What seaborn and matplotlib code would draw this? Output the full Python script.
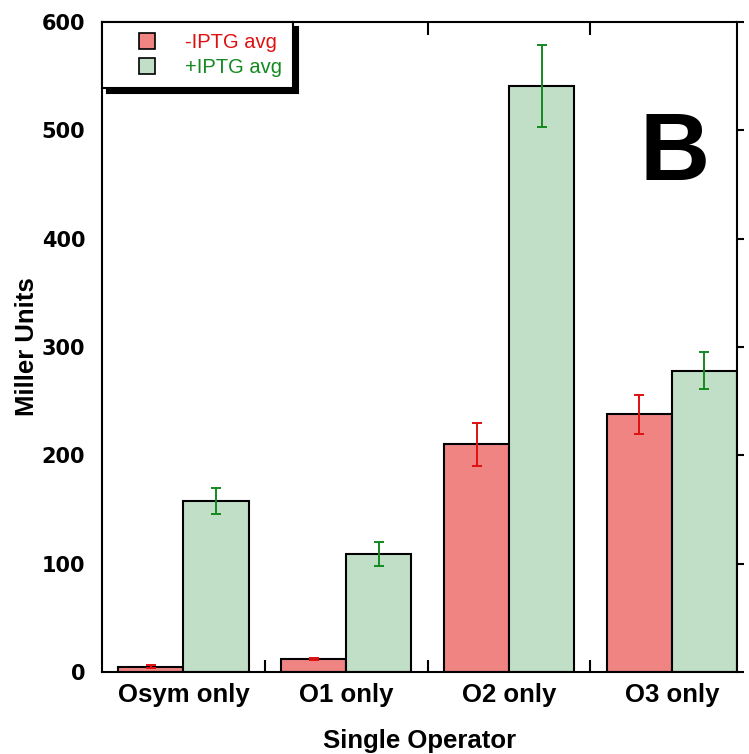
import numpy as np
import pandas as pd
import matplotlib
matplotlib.use("Agg")
import matplotlib.pyplot as plt
from matplotlib.lines import Line2D
import seaborn as sns

operators = ["Osym only", "O1 only", "O2 only", "O3 only"]
conditions = ["-IPTG avg", "+IPTG avg"]
minus_iptg = [5, 12, 210, 238]
minus_err = [1, 1, 20, 18]
plus_iptg = [158, 109, 541, 278]
plus_err = [12, 11, 38, 17]

bar_colors = ["#F08482", "#C1DFC6"]
err_colors = ["#E01010", "#138A1F"]

df = pd.DataFrame({
    "operator": operators * 2,
    "condition": [conditions[0]] * 4 + [conditions[1]] * 4,
    "value": minus_iptg + plus_iptg,
})

sns.set_style("white")
plt.rcParams["font.family"] = ["Liberation Sans", "DejaVu Sans"]
plt.rcParams["text.color"] = "black"
plt.rcParams["axes.labelcolor"] = "black"
plt.rcParams["xtick.color"] = "black"
plt.rcParams["ytick.color"] = "black"

fig = plt.figure(figsize=(7.49, 7.54), dpi=100)
ax = fig.add_axes([0.1362, 0.1088, 0.8478, 0.862])

sns.barplot(data=df, x="operator", y="value", hue="condition",
            order=operators, hue_order=conditions, palette=bar_colors,
            errorbar=None, width=0.8, edgecolor="black", linewidth=1.5,
            saturation=1, legend=False, ax=ax)

# error bars at the bar centres that seaborn placed
for cont, errs, ec in zip(ax.containers, [minus_err, plus_err], err_colors):
    xs = [p.get_x() + p.get_width() / 2 for p in cont.patches]
    ys = [p.get_height() for p in cont.patches]
    ax.errorbar(xs, ys, yerr=errs, fmt="none", ecolor=ec, elinewidth=1.4,
                capsize=3.3, capthick=1.4, zorder=5)

ax.set_xlim(-0.5, 3.4)
ax.set_ylim(0, 600)
ax.set_yticks(np.arange(0, 601, 100))
ax.set_xticks(range(len(operators)))
ax.set_xticklabels(operators, fontsize=18.5, fontweight="bold")
ax.set_xticks([0.5, 1.5, 2.5], minor=True)
ax.tick_params(axis="x", which="major", length=0, pad=8)
ax.tick_params(axis="x", which="minor", direction="in", length=9, width=1.5,
               top=True, bottom=True)
ax.tick_params(axis="y", left=False, right=True, direction="out", length=5,
               width=1.5, labelleft=True, pad=7)
for lab in ax.get_yticklabels():
    lab.set_family("DejaVu Sans")
    lab.set_fontweight("bold")
    lab.set_fontsize(15)

for s in ax.spines.values():
    s.set_visible(True)
    s.set_color("black")
    s.set_linewidth(1.5)

ax.set_xlabel("Single Operator", fontsize=18.5, fontweight="bold", labelpad=16)
ax.set_ylabel("Miller Units", fontsize=18.5, fontweight="bold", labelpad=2)

handles = [Line2D([], [], ls="none", marker="s", markersize=12,
                  markerfacecolor=c, markeredgecolor="black", markeredgewidth=1.2)
           for c in bar_colors]
leg = ax.legend(handles, conditions, loc="upper left", bbox_to_anchor=(0, 1),
                borderaxespad=0, fontsize=14.5, handlelength=3.4, handletextpad=0.15,
                borderpad=0.55, labelspacing=0.3, frameon=True, fancybox=False,
                shadow={"ox": 3.5, "oy": -3.5, "color": "black", "alpha": 1},
                labelcolor=err_colors)
leg.get_frame().set_edgecolor("black")
leg.get_frame().set_linewidth(1.5)
leg.get_frame().set_alpha(1)

ax.text(0.902, 0.757, "B", transform=ax.transAxes, fontsize=70,
        fontweight="bold", ha="center", va="baseline")

fig.savefig("out.png", dpi=100)
